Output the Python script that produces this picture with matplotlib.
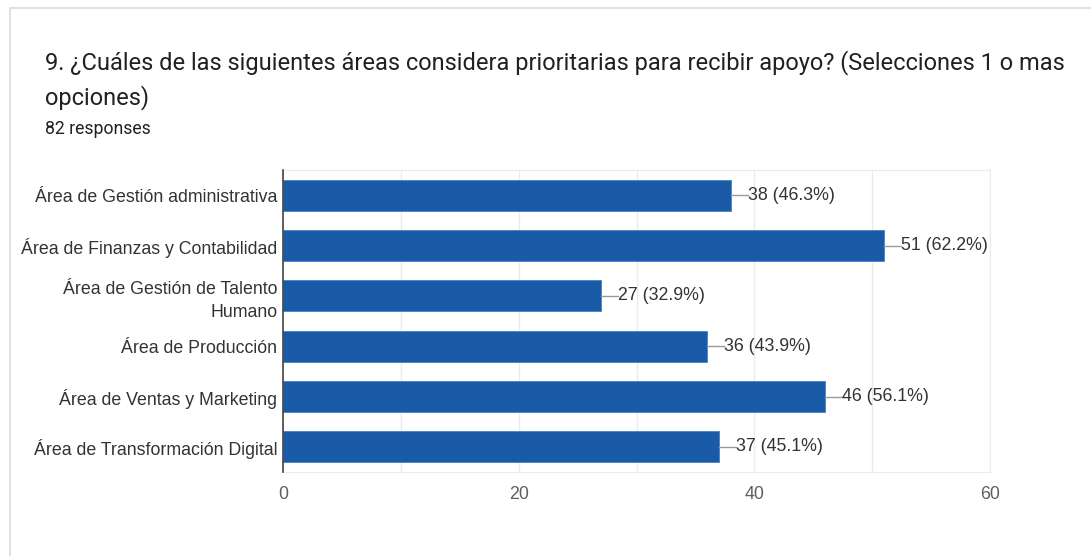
import matplotlib.pyplot as plt
from matplotlib.patches import Rectangle

plt.rcParams['font.family'] = ['Roboto', 'DejaVu Sans']

# Data
categories = [
    "Área de Gestión administrativa",
    "Área de Finanzas y Contabilidad",
    "Área de Gestión de Talento\nHumano",
    "Área de Producción",
    "Área de Ventas y Marketing",
    "Área de Transformación Digital",
]
counts = [38, 51, 27, 36, 46, 37]
percents = [46.3, 62.2, 32.9, 43.9, 56.1, 45.1]
x_ticks = [0, 20, 40, 60]

bar_color = "#1a5ba8"
axis_font = ['Liberation Sans', 'DejaVu Sans']

fig = plt.figure(figsize=(10.91, 5.56), dpi=100)

# card border
fig.patches.append(Rectangle((10 / 1091, -0.1), 1.2, 1 - 8 / 556 + 0.1,
                             transform=fig.transFigure, fill=False,
                             edgecolor="#dadce0", linewidth=1.2))

ax = fig.add_axes([283 / 1091, 1 - 472 / 556, 707 / 1091, 302 / 556])

y = list(range(len(categories)))
ax.barh(y, counts, height=0.62, color=bar_color, edgecolor="#4a80c8", linewidth=0.6, zorder=3)

for yi, c, p in zip(y, counts, percents):
    ax.plot([c, c + 1.45], [yi, yi], color="#999999", linewidth=1, zorder=3)
    ax.text(c + 1.45, yi, f"{c} ({p}%)", va="center", ha="left",
            fontsize=12.8, color="#333333", family=axis_font)

ax.set_xlim(0, 60)
ax.set_ylim(len(categories) - 0.5, -0.5)
ax.set_xticks(x_ticks)
ax.set_xticks(range(0, 61, 10), minor=True)
ax.set_yticks(y)
ax.set_yticklabels(categories, fontsize=12.8, color="#333333", family=axis_font,
                   linespacing=1.45)
ax.tick_params(axis="y", length=0, pad=4)
ax.tick_params(axis="x", which="both", length=0, pad=10, labelsize=12.8, labelcolor="#5f5f5f")
for lbl in ax.get_xticklabels():
    lbl.set_family(axis_font)
ax.grid(axis="x", which="both", color="#ebebeb", linewidth=1, zorder=0)

for side in ["top", "right", "bottom"]:
    ax.spines[side].set_color("#ebebeb")
ax.spines["left"].set_color("#444444")
ax.spines["left"].set_linewidth(1.2)
ax.spines["left"].set_zorder(4)

fig.text(45 / 1091, 1 - 63 / 556,
         "9. ¿Cuáles de las siguientes áreas considera prioritarias para recibir apoyo? (Selecciones 1 o mas",
         fontsize=17, color="#202124", va="center", ha="left")
fig.text(45 / 1091, 1 - 98 / 556, "opciones)",
         fontsize=17, color="#202124", va="center", ha="left")
fig.text(45 / 1091, 1 - 129 / 556, "82 responses",
         fontsize=12.7, color="#202124", va="center", ha="left")

fig.savefig("out.png", dpi=100)
